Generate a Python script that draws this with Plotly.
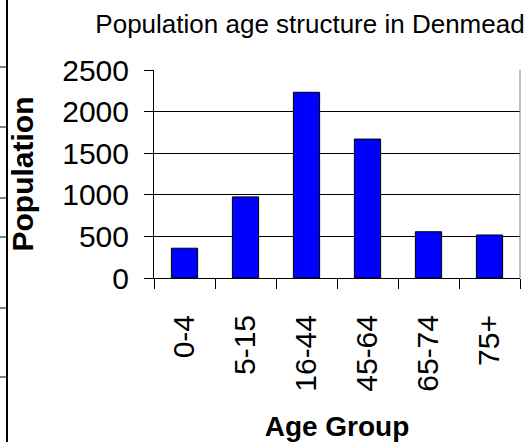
import plotly.graph_objects as go

age_groups = ["0-4", "5-15", "16-44", "45-64", "65-74", "75+"]
population = [358, 975, 2232, 1670, 556, 517]
y_ticks = [0, 500, 1000, 1500, 2000, 2500]

FONT = "Liberation Sans, Arial, sans-serif"

fig = go.Figure()
fig.add_trace(go.Bar(x=age_groups, y=population, marker=dict(color="#0000FF", line=dict(color="black", width=1)),
                     showlegend=False, hoverinfo="x+y"))

# plot area is 154..520 px wide, 70..278 px tall
PW, PH, L, T = 366, 208, 154, 70
def px_x(v): return (v - L) / PW
def px_y(v): return (T + PH - v) / PH

shapes = [dict(type="line", xref="paper", yref="paper", x0=1, x1=1, y0=0, y1=1, line=dict(color="#808080", width=1))]
# cropped table border on the far left
shapes.append(dict(type="line", xref="paper", yref="paper", x0=px_x(7), x1=px_x(7), y0=px_y(0), y1=px_y(442),
                   line=dict(color="black", width=2)))
for yy in [67, 127, 198, 237, 308, 377]:
    shapes.append(dict(type="line", xref="paper", yref="paper", x0=px_x(0), x1=px_x(7), y0=px_y(yy), y1=px_y(yy),
                       line=dict(color="black", width=1)))

fig.update_layout(width=532, height=442, margin=dict(l=L, r=12, t=T, b=164, autoexpand=False),
                  paper_bgcolor="white", plot_bgcolor="white", bargap=0.57,
                  font=dict(family=FONT, color="black"),
                  title=dict(text="Population age structure in Denmead", font=dict(size=26, family=FONT),
                             x=310/532, xanchor="center", xref="container", y=1-24/442, yanchor="middle", yref="container"),
                  shapes=shapes)
fig.update_xaxes(type="category", tickson="boundaries", ticks="outside", ticklen=10, tickcolor="black",
                 tickangle=-90, tickfont=dict(size=30), showline=True, linecolor="black", linewidth=1,
                 ticklabelstandoff=24, showgrid=False, automargin=False,
                 title=dict(text="<b>Age Group</b>", font=dict(size=28), standoff=28))
fig.update_yaxes(range=[0, 2500], tickvals=y_ticks, ticks="outside", ticklen=9, tickcolor="black",
                 tickfont=dict(size=30), showline=True, linecolor="black", linewidth=1, automargin=False,
                 showgrid=True, gridcolor="black", gridwidth=1, zeroline=False, ticklabelstandoff=9,
                 title=dict(text="<b>Population</b>", font=dict(size=30), standoff=19))
fig.write_html("out.html", config={"displayModeBar": False}, post_script="document.body.style.margin='0px';")
